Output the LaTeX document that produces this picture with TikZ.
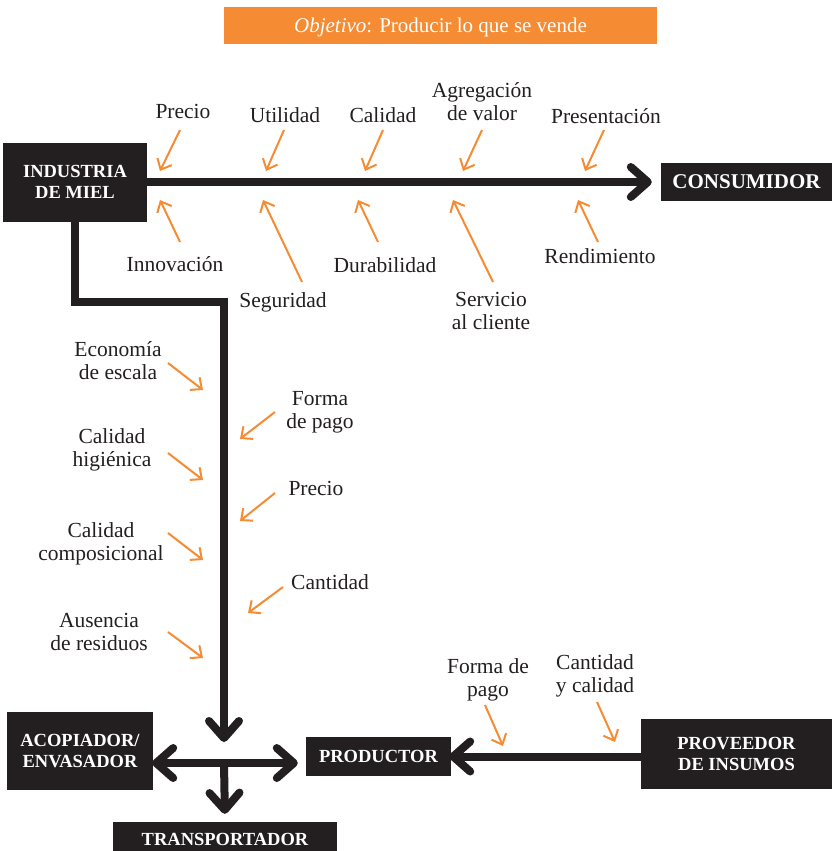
\documentclass[tikz,border=0pt]{standalone}
\usepackage{fontspec}
\setmainfont{Liberation Serif}
\usetikzlibrary{arrows.meta}
\definecolor{ink}{HTML}{231F20}
\definecolor{honey}{HTML}{F58B33}
\newcommand\twoline[2]{\begin{tabular}[t]{@{}c@{}}#1\\#2\end{tabular}}

\begin{document}
\begin{tikzpicture}[x=1pt,y=-1pt,
  box/.style={fill=ink, text=white, font=\bfseries\fontsize{18.5}{20.5}\selectfont, align=center, inner sep=0pt},
  lbl/.style={font=\fontsize{21.5}{23.5}\selectfont, text=ink, inner sep=0pt, anchor=base},
  flow/.style={draw=ink, line width=8pt, -{Straight Barb[length=17pt,width=30pt,round]}},
  flowboth/.style={draw=ink, line width=8pt, {Straight Barb[length=17pt,width=30pt,round]}-{Straight Barb[length=17pt,width=30pt,round]}},
  tick/.style={draw=honey, line width=2pt, -{Straight Barb[length=9pt,width=16pt]}}
]
\useasboundingbox (0,0) rectangle (832,851);

% objective banner (text baseline set low inside the band)
\node[fill=honey, minimum width=433pt, minimum height=37pt, inner sep=0pt, text=white,
      font=\fontsize{21}{24}\selectfont] (obj) at (440.5,25.5)
      {\raisebox{-7pt}[0pt][0pt]{\textit{Objetivo}: Producir lo que se vende}};

% actors
\node[box, minimum width=144pt, minimum height=79pt] (ind) at (75,182) {INDUSTRIA\\DE MIEL};
\node[box, minimum width=171pt, minimum height=38pt, font=\bfseries\fontsize{21}{24}\selectfont] (cons) at (746.5,182) {CONSUMIDOR};
\node[box, minimum width=146pt, minimum height=78pt] (acop) at (80,751) {ACOPIADOR/\\ENVASADOR};
\node[box, minimum width=145pt, minimum height=39pt] (prod) at (378.5,756.5) {PRODUCTOR};
\node[box, minimum width=224pt, minimum height=34pt] (trans) at (225,839) {TRANSPORTADOR};
\node[box, minimum width=191pt, minimum height=70pt] (prov) at (736.5,754) {PROVEEDOR\\DE INSUMOS};

% main flows
\coordinate (elbow) at (224,302);
\coordinate (jtop) at (224,742);
\coordinate (jn) at (224,763);
\draw[flow, shorten >=9pt] (ind.east) -- (cons.west);
\draw[flow] (ind.south) |- (elbow) -- (jtop);
\draw[flowboth, shorten <=-1pt, shorten >=8pt] (acop.east |- jn) -- (prod.west |- jn);
\draw[flow, shorten >=8pt] (jn) -- (trans.north);
\draw[flow, shorten >=-2pt] (prov.west |- prod.east) -- (prod.east);

% attributes along the consumer flow
\node[lbl] (lp1) at (183,118) {Precio};
\node[lbl] (lut) at (285,122) {Utilidad};
\node[lbl] (lca) at (383,122) {Calidad};
\node[lbl] (lag) at (482,97) {\twoline{Agregación}{de valor}};
\node[lbl] (lpr) at (606,123) {Presentación};
\node[lbl] (lin) at (175,271) {Innovación};
\node[lbl] (lse) at (283,307) {Seguridad};
\node[lbl] (ldu) at (385,272) {Durabilidad};
\node[lbl] (lsv) at (491,306) {\twoline{Servicio}{al cliente}};
\node[lbl] (lre) at (600,263) {Rendimiento};

% attributes along the producer flow
\node[lbl] (lec) at (118,356) {\twoline{Economía}{de escala}};
\node[lbl] (lch) at (112,443) {\twoline{Calidad}{higiénica}};
\node[lbl] (lcc) at (101,537) {\twoline{Calidad}{composicional}};
\node[lbl] (lau) at (99,627) {\twoline{Ausencia}{de residuos}};
\node[lbl] (lfp) at (320,405) {\twoline{Forma}{de pago}};
\node[lbl] (lp2) at (316,495) {Precio};
\node[lbl] (lct) at (330,589) {Cantidad};

% attributes of the supply flow
\node[lbl] (lfq) at (488,673) {\twoline{Forma de}{pago}};
\node[lbl] (lcy) at (595,669) {\twoline{Cantidad}{y calidad}};

% orange influence arrows: name / tail / head
\foreach \n/\tx/\ty/\hx/\hy in {
  a1/180/130/160/171, a2/284/130/266/171, a3/383/130/365/171,
  a4/482/130/463/171, a5/604/130/585/171,
  b1/180/242/160/200, b2/302/282/263/200, b3/378/242/358/200,
  b4/493/282/453/200, b5/598/242/578/200,
  c1/168/363/203/390, c2/168/453/203/480, c3/168/533/203/560,
  c4/168/632/203/658,
  d1/275/412/240/439, d2/275/493/240/521, d3/283/587/248/613,
  e1/485/705/503/746, e2/597/702/615/742}
{
  \coordinate (\n-t) at (\tx,\ty);
  \coordinate (\n-h) at (\hx,\hy);
  \draw[tick] (\n-t) -- (\n-h);
}
\end{tikzpicture}
\end{document}
